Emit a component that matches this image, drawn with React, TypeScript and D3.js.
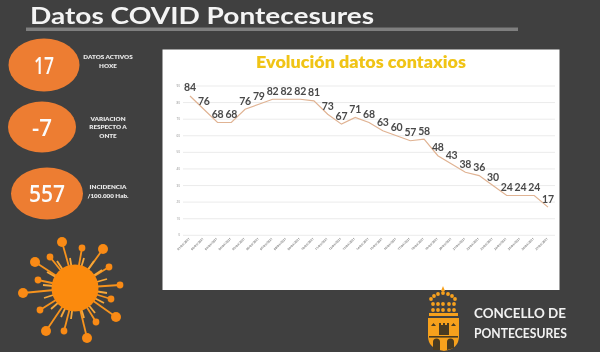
import React from "react";
import * as d3 from "d3";

const values = [84,76,68,68,76,79,82,82,82,81,73,67,71,68,63,60,57,58,48,43,38,36,30,24,24,24,17];
const dates = ["01/03/2021","02/03/2021","03/03/2021","04/03/2021","05/03/2021","06/03/2021","07/03/2021","08/03/2021","09/03/2021","10/03/2021","11/03/2021","12/03/2021","13/03/2021","14/03/2021","15/03/2021","16/03/2021","17/03/2021","18/03/2021","19/03/2021","20/03/2021","21/03/2021","22/03/2021","23/03/2021","24/03/2021","25/03/2021","26/03/2021","27/03/2021"];
const yTicks = [0,10,20,30,40,50,60,70,80,90];

const stats = [
  { value: "17", lines: ["DATOS ACTIVOS", "HOXE"], cx: 44, cy: 65, rx: 35.5, ry: 26.5, ty: 59, step: 9, w: 20 },
  { value: "-7", lines: ["VARIACION", "RESPECTO A", "ONTE"], cx: 42, cy: 127, rx: 34, ry: 25.5, ty: 121, step: 8.3, w: 20 },
  { value: "557", lines: ["INCIDENCIA", "/100.000 Hab."], cx: 47, cy: 193.5, rx: 36, ry: 26, ty: 189, step: 9, w: 36 },
];

const virusLong: [number, number][] = [[-13,-46],[7,-40],[28,-39],[34,-21],[45,-3],[36,11],[41,29],[21,34],[12,50],[-11,43],[-29,43],[-35,22],[-52,5],[-37,-8],[-40,-26],[-25,-31]];
const virusShort: [number, number][] = [[-5,-30],[9,-30],[19,-27],[27,-18],[32,-9],[32,5],[29,15],[20,25],[9,30],[-4,31],[-14,29],[-24,21],[-31,10],[-32,-3],[-28,-16],[-18,-27]];
const virusBig = [0, 2, 8, 10, 12, 14, 6];

const crownDots: [number, number][] = [[431,299],[434,296],[438,294],[443,293],[448,294],[452,296],[455,299],[433,304],[438,304],[443,304],[449,304],[454,304],[433,310],[438,310],[443,310],[449,310],[454,310]];

const font = "'Open Sans', Lato, sans-serif";
const gothic = "Lato, 'Open Sans', sans-serif";

export default function App() {
  const x = d3.scaleLinear().domain([0, values.length - 1]).range([190, 548]);
  const y = d3.scaleLinear().domain([0, 90]).range([235.3, 86]);
  const line = d3.line<number>().x((_, i) => x(i)).y((d) => y(d));
  const cx = 75, cy = 288;
  return (
    <svg width={600} height={352} viewBox="0 0 600 352" style={{ position: "fixed", left: 0, top: 0, display: "block" }}>
      <defs>
        <filter id="soft" x="-5%" y="-5%" width="110%" height="110%"><feGaussianBlur stdDeviation="0.35" /></filter>
      </defs>
      <rect width={600} height={352} fill="#404040" />
      <g filter="url(#soft)">
        <text x={30} y={23.5} fontFamily={gothic} fontSize={23.5} fontWeight={700} fill="#f4f4f4" textLength={344} lengthAdjust="spacingAndGlyphs">Datos COVID Pontecesures</text>
        <rect x={26} y={27.5} width={492} height={3.5} fill="#7f7f7f" />
        {stats.map((s) => (
          <g key={s.value}>
            <ellipse cx={s.cx} cy={s.cy} rx={s.rx} ry={s.ry} fill="#ed7d31" />
            <text x={s.cx} y={s.cy + 8.5} textAnchor="middle" fontFamily={font} fontSize={22.5} fontWeight={600} fill="#fbfbfb" textLength={s.w} lengthAdjust="spacingAndGlyphs">{s.value}</text>
            {s.lines.map((l, i) => (
              <text key={l} x={108} y={s.ty + i * s.step} textAnchor="middle" fontFamily={gothic} fontSize={6.3} fontWeight={800} fill="#e6e6e6">{l}</text>
            ))}
          </g>
        ))}

        <rect x={162.5} y={49.5} width={397} height={240.5} fill="#fff" />
        <text x={361} y={68} textAnchor="middle" fontFamily={gothic} fontSize={16.5} fontWeight={800} fill="#f0c419" textLength={210} lengthAdjust="spacingAndGlyphs">Evolución datos contaxios</text>
        {yTicks.map((t) => (
          <g key={t}>
            <line x1={183} x2={555} y1={y(t)} y2={y(t)} stroke="#e6e6e6" strokeWidth={0.8} />
            <text x={180} y={y(t) + 1} textAnchor="end" fontFamily={font} fontSize={3} fill="#8c8c8c">{t}</text>
          </g>
        ))}
        {dates.map((d, i) => (
          <text key={d} transform={`translate(${x(i)},${239}) rotate(-45)`} textAnchor="end" fontFamily={font} fontSize={3} fontWeight={700} fill="#8a8a8a">{d}</text>
        ))}
        <path d={line(values) ?? ""} fill="none" stroke="#e0b393" strokeWidth={1.2} />
        {values.map((v, i) => (
          <text key={i} x={x(i)} y={y(v) - 4.5} textAnchor="middle" fontFamily={gothic} fontSize={10.5} fontWeight={700} letterSpacing={-0.2} fill="#4a4a4a">{v}</text>
        ))}

        <g>
          {virusLong.map(([dx, dy], i) => (
            <g key={i}>
              <line x1={cx} y1={cy} x2={cx + dx} y2={cy + dy} stroke="#f7931e" strokeWidth={1.8} />
              <circle cx={cx + dx} cy={cy + dy} r={virusBig.includes(i) ? 5 : 3.4} fill="#f98a12" />
            </g>
          ))}
          {virusShort.map(([dx, dy], i) => (
            <line key={i} x1={cx} y1={cy} x2={cx + dx} y2={cy + dy} stroke="#f7a83a" strokeWidth={1.8} />
          ))}
          <circle cx={cx} cy={cy} r={23.5} fill="#fb8a0c" />
        </g>

        <g fill="#f7a11e">
          <path d="M428,318 H459 V336 Q459,349 444,351 Q428,349 428,336 Z" />
          <rect x={429} y={313} width={29} height={3} />
          <path d="M441,291 L443,286 L445,291 Z" />
          {crownDots.map(([a, b], i) => <circle key={i} cx={a} cy={b} r={1.9} />)}
        </g>
        <g fill="#4a3a20">
          <path d="M439,335 V323 h2 v2 h2 v-2 h2 v2 h2 v-2 h2 V335 Z" />
          <rect x={429} y={336} width={29} height={1.6} />
          <path d="M431,326 l2.5,-3 l2.5,3 Z M451,326 l2.5,-3 l2.5,3 Z" />
          <path d="M433,348 v-6 a3.5,3.5 0 0 1 7,0 v8 h-7 Z M447,350 v-8 a3.5,3.5 0 0 1 7,0 v6 Z" />
        </g>
        <text x={474} y={318} fontFamily={gothic} fontSize={12.5} fontWeight={700} fill="#f2f2f2" textLength={92} lengthAdjust="spacingAndGlyphs">CONCELLO DE</text>
        <text x={474} y={338} fontFamily={gothic} fontSize={12.5} fontWeight={700} fill="#f2f2f2" textLength={93} lengthAdjust="spacingAndGlyphs">PONTECESURES</text>
      </g>
    </svg>
  );
}
